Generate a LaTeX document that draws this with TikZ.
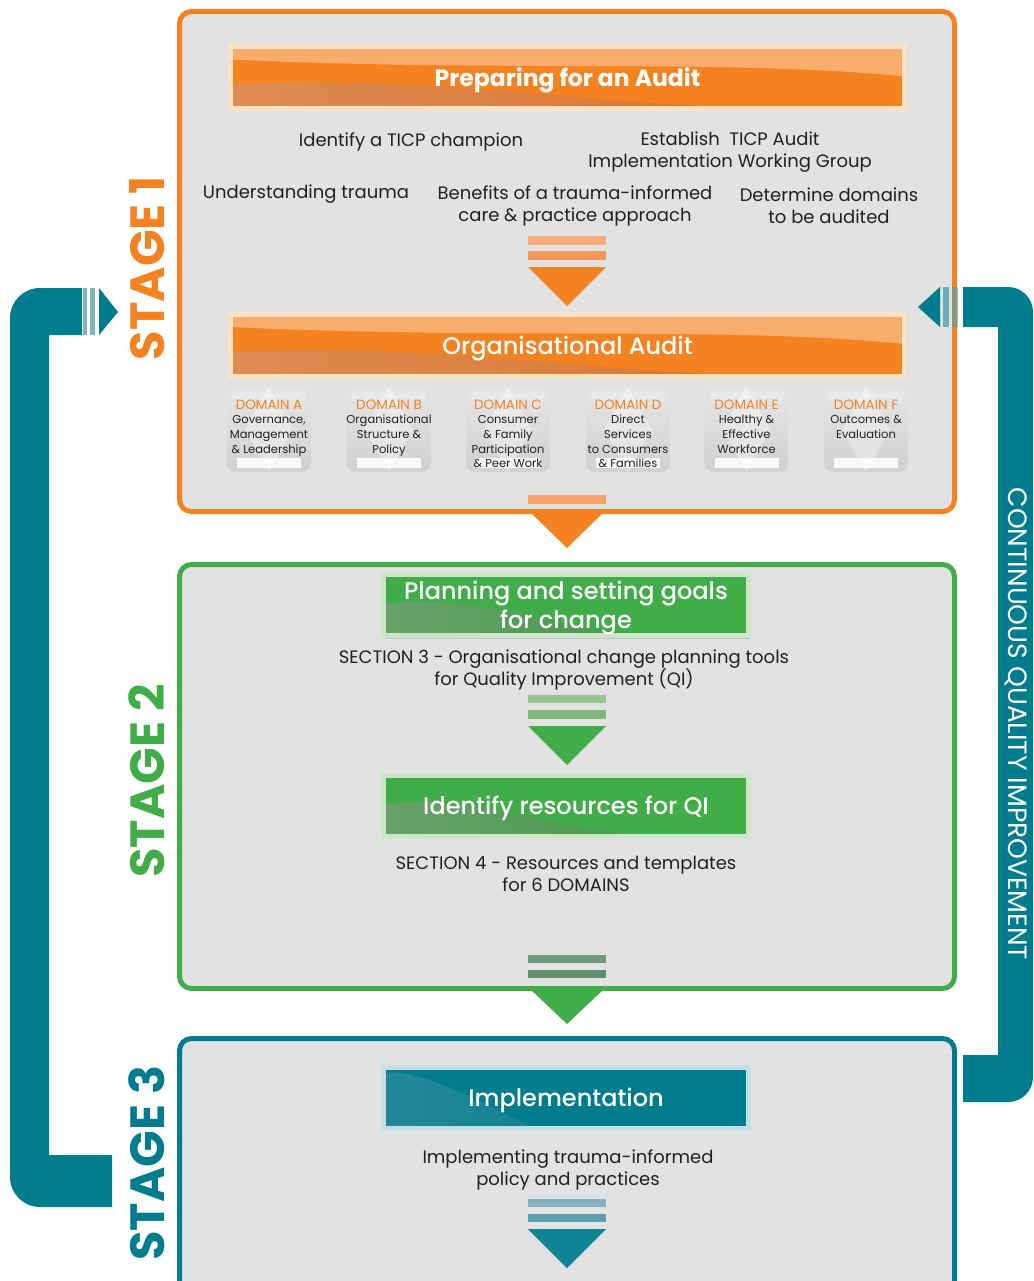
\documentclass[tikz,border=0pt]{standalone}
\usepackage{fontspec}
\setmainfont{Poppins}
\newfontfamily\bandfont{Poppins Medium}
\usetikzlibrary{calc, shadows}

\definecolor{orng}{HTML}{F58220}
\definecolor{ocream}{HTML}{FBE3C4}
\definecolor{olite}{HTML}{F5AB7C}
\definecolor{omid}{HTML}{F3975B}
\definecolor{omute}{HTML}{D98E62}
\definecolor{odeep}{HTML}{D5732F}
\definecolor{grn}{HTML}{41AD49}
\definecolor{gcream}{HTML}{CDE5C9}
\definecolor{glite}{HTML}{98C494}
\definecolor{gmid}{HTML}{7FB97A}
\definecolor{gdark}{HTML}{6F997B}
\definecolor{gdeep}{HTML}{5F906D}
\definecolor{gmute}{HTML}{72A072}
\definecolor{tl}{HTML}{007C8F}
\definecolor{tcream}{HTML}{C6DDE3}
\definecolor{tlite}{HTML}{82B2C0}
\definecolor{tmid}{HTML}{5D9EB1}
\definecolor{tmute}{HTML}{3A8E9F}
\definecolor{pane}{HTML}{E1E2E1}
\definecolor{ink}{HTML}{231F20}

\newcommand{\dtitle}{\fontsize{13.5}{15}\selectfont\color{orng}}

\begin{document}
\begin{tikzpicture}[x=1pt,y=-1pt]
      \tikzset{stage/.style = {draw=#1, line width=5pt, fill=pane, rounded corners=12pt, inner sep=0pt}}
      \tikzset{stg/.style = {rotate=90, inner sep=0pt, text=#1, font=\bfseries\fontsize{48}{48}\selectfont}}
      \tikzset{band/.style = {draw=#1, line width=5pt, inner sep=0pt, text=white, align=center, text depth=0pt,
          drop shadow={shadow xshift=1pt, shadow yshift=-3pt, opacity=0.3}}}
      \tikzset{oband/.style = {band=ocream, fill=orng, minimum width=674pt, minimum height=62pt,
          path picture={
            \fill[white, opacity=0.35] (path picture bounding box.north west) -- (path picture bounding box.north east)
              -- ([yshift=-30pt]path picture bounding box.north east)
              .. controls ([xshift=-180pt,yshift=-12pt]path picture bounding box.north east)
              and ([xshift=280pt,yshift=-26pt]path picture bounding box.north west)
              .. ([yshift=-13pt]path picture bounding box.north west) -- cycle;
            \shade[left color=omute, right color=odeep, opacity=0.8]
              ([yshift=-38pt]path picture bounding box.north west)
              .. controls ([xshift=220pt,yshift=-28pt]path picture bounding box.north west)
              and ([xshift=380pt]path picture bounding box.south west)
              .. ([xshift=560pt]path picture bounding box.south west) -- (path picture bounding box.south west) -- cycle;
          }}}
      \tikzset{gband/.style = {band=gcream, fill=grn, minimum width=365pt, minimum height=61pt,
          path picture={
            \shade[left color=gmute, right color=grn!85!black, opacity=0.8]
              ([yshift=-30pt]path picture bounding box.north west)
              .. controls ([xshift=70pt,yshift=-18pt]path picture bounding box.north west)
              and ([xshift=150pt,yshift=-45pt]path picture bounding box.north west)
              .. ([xshift=250pt]path picture bounding box.south west) -- (path picture bounding box.south west) -- cycle;
          }}}
      \tikzset{tband/.style = {band=tcream, fill=tl, minimum width=365pt, minimum height=61pt,
          path picture={
            \shade[left color=tmute, right color=tl, opacity=0.6]
              ([yshift=-6pt]path picture bounding box.north west)
              .. controls ([xshift=30pt,yshift=-2pt]path picture bounding box.north west)
              and ([xshift=70pt,yshift=-20pt]path picture bounding box.north west)
              .. ([xshift=150pt]path picture bounding box.south west) -- (path picture bounding box.south west) -- cycle;
          }}}
      \tikzset{tile/.style = {rounded corners=9pt, minimum width=84pt, minimum height=85pt, inner sep=0pt,
          top color=gray!20, bottom color=gray!36,
          path picture={
            \fill[white, opacity=0.35, sharp corners] (path picture bounding box.north) -- ([xshift=-24pt]path picture bounding box.center)
              -- (path picture bounding box.south) -- ([xshift=24pt]path picture bounding box.center) -- cycle;
            \fill[white, opacity=0.2, sharp corners] ([xshift=5pt,yshift=-5pt]path picture bounding box.north west)
              rectangle ([xshift=-5pt,yshift=-14pt]path picture bounding box.north east);
            \fill[white, opacity=0.85, sharp corners] ([xshift=10pt,yshift=4pt]path picture bounding box.south west)
              rectangle ([xshift=-10pt,yshift=14pt]path picture bounding box.south east);
          }}}
      \tikzset{dom/.style = {anchor=north, align=center, inner sep=0pt, text=ink, font=\fontsize{11.5}{14.6}\selectfont}}
      \tikzset{txt/.style = {align=center, inner sep=0pt, text=ink, font=\fontsize{18}{22}\selectfont}}

      \useasboundingbox (0,0) rectangle (1033,1281);
      \clip (0,0) rectangle (1033,1281);

      % return loop
      \fill[tl] (82,288) -- (40,288) .. controls (23.4,288) and (10,301.4) .. (10,318) -- (10,1177)
        .. controls (10,1193.6) and (23.4,1207) .. (40,1207) -- (112,1207) -- (112,1155) -- (49,1155)
        -- (49,335) -- (82,335) -- cycle;
      \fill[tlite] (83,288) rectangle (87,335);
      \fill[tlite] (90,288) rectangle (95,335);
      \fill[tl] (99,288) -- (118,312) -- (99,335) -- cycle;

      \fill[tl] (963,287) -- (1008,287) .. controls (1021.8,287) and (1033,298.2) .. (1033,312) -- (1033,1077)
        .. controls (1033,1090.8) and (1021.8,1102) .. (1008,1102) -- (963,1102) -- (963,1055) -- (998,1055)
        -- (998,327) -- (963,327) -- cycle;
      \node[rotate=-90, inner sep=0pt, text=white, font=\fontsize{26.5}{26.5}\selectfont] (cqi) at (1016,724) {CONTINUOUS QUALITY IMPROVEMENT};

      % stages
      \node[stage=orng, minimum width=775pt, minimum height=500pt] (s1) at (567,261.5) {};
      \node[stage=grn, minimum width=775pt, minimum height=424pt] (s2) at (567,776.5) {};
      \node[stage=tl, minimum width=775pt, minimum height=262pt] (s3) at (567,1169.5) {};

      \fill[tl!70, opacity=0.8] (943,287) rectangle (949,327);
      \fill[tl!70, opacity=0.6] (952,287) rectangle (958,327);
      \fill[tl] (940,287) -- (918,307) -- (940,327) -- cycle;

      \fill[orng] ([xshift=-38pt,yshift=3pt]s1.south) -- ([xshift=38pt,yshift=3pt]s1.south) -- ([yshift=-34pt]s1.south) -- cycle;
      \fill[grn] ([xshift=-38pt,yshift=3pt]s2.south) -- ([xshift=38pt,yshift=3pt]s2.south) -- ([yshift=-33pt]s2.south) -- cycle;

      \node[stg=orng] (l1) at (147,268) {STAGE 1};
      \node[stg=grn] (l2) at (147,781) {STAGE 2};
      \node[stg=tl] (l3) at (147,1163) {STAGE 3};

      % stage 1
      \node[oband, font=\bfseries\fontsize{23.5}{27}\selectfont] (prep) at (567.5,77.5) {Preparing for an Audit};
      \node[txt] (champ) at (411,141.5) {Identify a TICP champion};
      \node[txt] (group) at (730,152.5) {Establish\ \ TICP Audit\\Implementation Working Group};
      \node[txt] (under) at (306,194.5) {Understanding trauma};
      \node[txt] (benef) at (575,205.5) {Benefits of a trauma-informed\\care \& practice approach};
      \node[txt] (doms) at (829,205.5) {Determine domains\\to be audited};

      \fill[olite] (528,236) rectangle (606,245);
      \fill[omid] (528,251) rectangle (606,260);
      \fill[orng] (528,267) -- (606,267) -- (567,306) -- cycle;

      \node[oband, font=\bandfont\fontsize{24}{27}\selectfont] (audit) at (567.5,345) {Organisational Audit};

      \node[tile] (ta) at (269,429.5) {};
      \node[tile] (tb) at (389,429.5) {};
      \node[tile] (tc) at (508,429.5) {};
      \node[tile] (td) at (628,429.5) {};
      \node[tile] (te) at (746.5,429.5) {};
      \node[tile] (tf) at (866,429.5) {};
      \node[dom] (da) at (269,399.5) {{\dtitle DOMAIN A}\\Governance,\\Management\\\& Leadership};
      \node[dom] (db) at (389,399.5) {{\dtitle DOMAIN B}\\Organisational\\Structure \&\\Policy};
      \node[dom] (dc) at (508,399.5) {{\dtitle DOMAIN C}\\Consumer\\\& Family\\Participation\\\& Peer Work};
      \node[dom] (dd) at (628,399.5) {{\dtitle DOMAIN D}\\Direct\\Services\\to Consumers\\\& Families};
      \node[dom] (de) at (746.5,399.5) {{\dtitle DOMAIN E}\\Healthy \&\\Effective\\Workforce};
      \node[dom] (df) at (866,399.5) {{\dtitle DOMAIN F}\\Outcomes \&\\Evaluation};

      \fill[omid!90] (528,495) rectangle (606,504);

      % stage 2
      \node[gband, font=\bandfont\fontsize{24}{29}\selectfont] (plan) at (566,605) {Planning and setting goals\\for change\vphantom{g}};
      \node[txt] (sec3) at (564,669.5) {SECTION 3 - Organisational change planning tools\\for Quality Improvement (QI)};
      \fill[glite] (528,695) rectangle (606,703);
      \fill[gmid] (528,710) rectangle (606,719);
      \fill[grn] (528,726) -- (606,726) -- (567,765) -- cycle;
      \node[gband, font=\bandfont\fontsize{24}{27}\selectfont] (res) at (566,805.5) {Identify resources for QI};
      \node[txt] (sec4) at (566,874) {SECTION 4 - Resources and templates\\for 6 DOMAINS};
      \fill[gdark] (528,955) rectangle (606,963);
      \fill[gdeep] (528,970) rectangle (606,978);

      % stage 3
      \node[tband, font=\bandfont\fontsize{24}{27}\selectfont] (impl) at (566,1097.5) {Implementation};
      \node[txt] (doing) at (568,1169.5) {Implementing trauma-informed\\policy and practices};
      \fill[tlite] (528,1199) rectangle (606,1207);
      \fill[tmid] (528,1214) rectangle (606,1222);
      \fill[tl!95!white] (528,1229) -- (606,1229) -- (567,1268) -- cycle;
\end{tikzpicture}
\end{document}
